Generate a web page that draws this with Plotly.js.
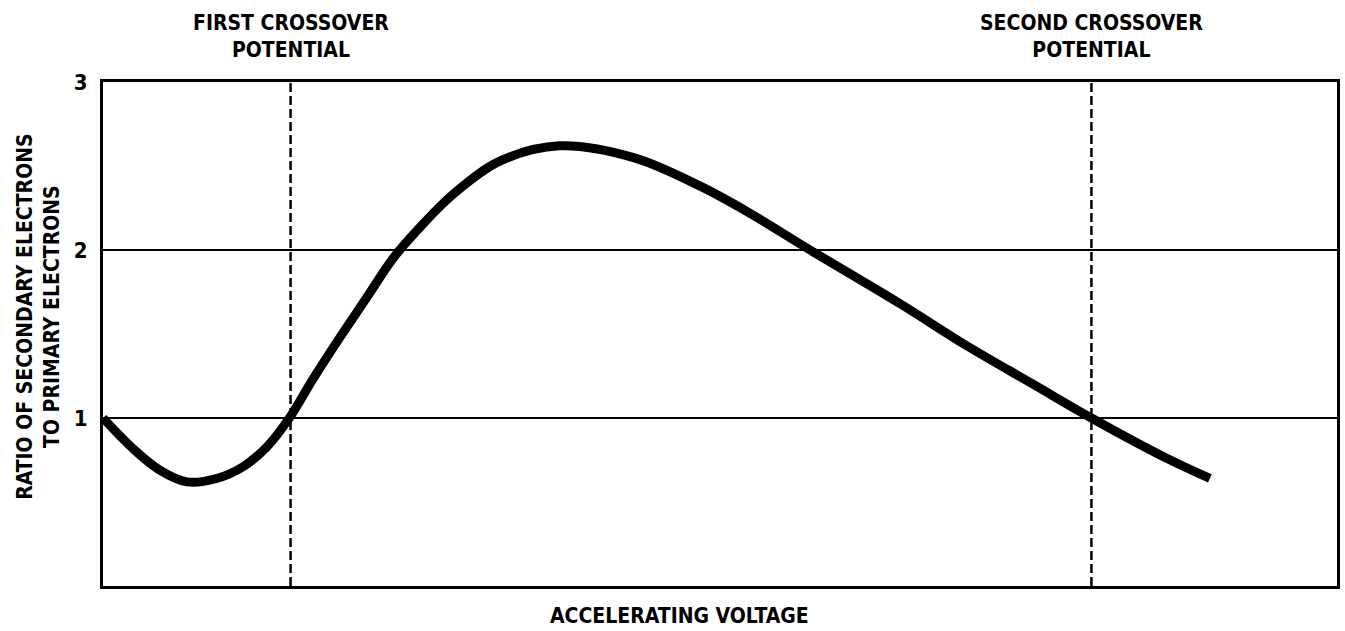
<!DOCTYPE html>
<html>
<head>
<meta charset="utf-8">
<script src="https://cdn.plot.ly/plotly-3.0.1.min.js"></script>
<style>html,body{margin:0;padding:0;background:#fff;}#chart{width:1345px;height:631px;}</style>
</head>
<body>
<div id="chart"></div>
<script>
// Accelerating voltage (arbitrary units, 0-100)
const voltage = [0, 2.4, 4.6, 6.8, 9.2, 11.35, 13.3, 15.1, 17.0, 19.2, 21.4, 23.5, 26.0, 28.5, 32.2, 37.0, 43.0, 48.4, 52.4, 57.3, 64.6, 70.0, 75.4, 80.1, 86.2, 89.7];
// Ratio of secondary to primary electrons
const ratio = [1.0, 0.82, 0.69, 0.62, 0.64, 0.71, 0.83, 1.0, 1.23, 1.48, 1.72, 1.95, 2.16, 2.34, 2.53, 2.62, 2.55, 2.38, 2.22, 2.0, 1.68, 1.43, 1.2, 1.0, 0.76, 0.64];
const crossovers = [15.2, 80.1];
const crossoverLabels = ["FIRST CROSSOVER<br>POTENTIAL", "SECOND CROSSOVER<br>POTENTIAL"];
const yTicks = [1, 2, 3];
const yTickLabels = ["1", "2", "3"];

const FONT = '"DejaVu Sans Condensed", "Liberation Sans Narrow", sans-serif';

const shapes = crossovers.map(x => ({
  type: 'line', xref: 'x', yref: 'paper', x0: x, x1: x, y0: 0, y1: 1,
  line: {color: '#000', width: 2.5, dash: '9px,4px'}
}));

const annotations = crossovers.map((x, i) => ({
  xref: 'x', yref: 'paper', x: x, y: 1, yshift: 18, yanchor: 'bottom',
  text: '<b>' + crossoverLabels[i] + '</b>', showarrow: false,
  font: {family: FONT, size: 21, color: '#000'}, align: 'center'
}));
annotations.push({
  xref: 'paper', yref: 'paper', x: 0.467, y: 0, yshift: -16, yanchor: 'top',
  text: '<b>ACCELERATING VOLTAGE</b>', showarrow: false,
  font: {family: FONT, size: 21, color: '#000'}
});
annotations.push({
  xref: 'paper', yref: 'paper', x: 0, xshift: -64, y: 0.534, xanchor: 'center', yanchor: 'middle',
  text: '<b>RATIO OF SECONDARY ELECTRONS<br>TO PRIMARY ELECTRONS</b>', showarrow: false, textangle: -90,
  font: {family: FONT, size: 21, color: '#000'}, align: 'center'
});

const trace = {
  x: voltage, y: ratio, type: 'scatter', mode: 'lines',
  line: {color: '#000', width: 9, shape: 'spline', smoothing: 1},
  hoverinfo: 'skip'
};

const layout = {
  width: 1345, height: 631,
  margin: {l: 103, r: 8, t: 82, b: 45},
  paper_bgcolor: '#fff', plot_bgcolor: '#fff',
  showlegend: false,
  xaxis: {range: [0, 100], showticklabels: false, ticks: '', showgrid: false, zeroline: false,
          showline: true, linecolor: '#000', linewidth: 3, mirror: true},
  yaxis: {range: [0, 3], tickvals: yTicks, ticktext: yTickLabels.map(t => '<b>' + t + '</b>'), ticks: '', showgrid: true,
          gridcolor: '#000', gridwidth: 2.5, zeroline: false,
          showline: true, linecolor: '#000', linewidth: 3, mirror: true,
          tickfont: {family: FONT, size: 22, color: '#000'}, ticklabelstandoff: 8},
  shapes: shapes,
  annotations: annotations
};

Plotly.newPlot('chart', [trace], layout, {displayModeBar: false, staticPlot: true});
</script>
</body>
</html>
